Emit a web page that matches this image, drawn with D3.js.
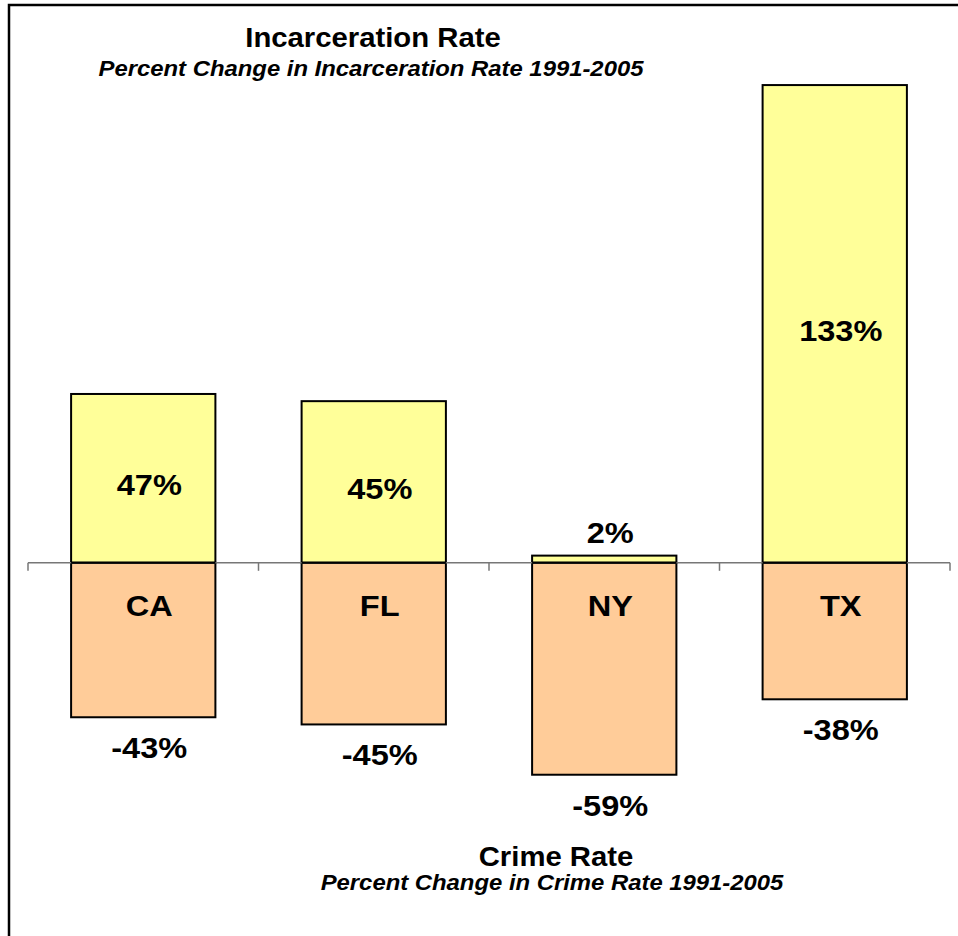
<!DOCTYPE html>
<html>
<head>
<meta charset="utf-8">
<script src="https://cdn.jsdelivr.net/npm/d3@7"></script>
<style>
  body { margin: 0; background: #fff; }
  text { font-family: Arial, "Liberation Sans", sans-serif; font-weight: bold; fill: #000; }
</style>
</head>
<body>
<div id="chart"></div>
<script>
(function() {
  var width = 958,
      height = 936;

  var states = ["CA", "FL", "NY", "TX"];
  var incarceration = [47, 45, 2, 133];
  var crime = [-43, -45, -59, -38];

  // the original text is a little wider than Liberation Sans
  var stretch = 1.085;
  function place(px, py) {
    return "translate(" + px + "," + py + ") scale(" + stretch + ",1)";
  }

  var svg = d3.select("#chart")
    .append("svg")
    .attr("width", width)
    .attr("height", height);

  // frame runs off the right and bottom of the picture
  svg.append("rect")
    .attr("x", 9)
    .attr("y", 5)
    .attr("width", 1100)
    .attr("height", 1100)
    .attr("fill", "none")
    .attr("stroke", "#000")
    .attr("stroke-width", 2.5);

  var x = d3.scaleBand()
    .domain(states)
    .range([28, 950])
    .paddingInner(0.374)
    .paddingOuter(0.187);

  var y = d3.scaleLinear()
    .domain([-100, 150])
    .range([922, 24]);

  var step = x.step();
  var labelShift = 6;

  // positive bars (incarceration)
  svg.selectAll(".inc")
    .data(states)
    .enter().append("rect")
    .attr("class", "inc")
    .attr("x", function(d) { return x(d); })
    .attr("width", x.bandwidth())
    .attr("y", function(d, i) { return y(incarceration[i]); })
    .attr("height", function(d, i) { return y(0) - y(incarceration[i]); })
    .attr("fill", "#FFFF99")
    .attr("stroke", "#000")
    .attr("stroke-width", 2);

  // negative bars (crime)
  svg.selectAll(".crime")
    .data(states)
    .enter().append("rect")
    .attr("class", "crime")
    .attr("x", function(d) { return x(d); })
    .attr("width", x.bandwidth())
    .attr("y", y(0))
    .attr("height", function(d, i) { return y(crime[i]) - y(0); })
    .attr("fill", "#FFCC99")
    .attr("stroke", "#000")
    .attr("stroke-width", 2);

  // axis line with ticks between categories
  svg.append("line")
    .attr("x1", x.range()[0])
    .attr("x2", x.range()[1])
    .attr("y1", y(0))
    .attr("y2", y(0))
    .attr("stroke", "#777")
    .attr("stroke-width", 1.5);

  svg.selectAll(".tick")
    .data(d3.range(states.length + 1))
    .enter().append("line")
    .attr("class", "tick")
    .attr("x1", function(i) { return x.range()[0] + i * step; })
    .attr("x2", function(i) { return x.range()[0] + i * step; })
    .attr("y1", y(0))
    .attr("y2", y(0) + 8)
    .attr("stroke", "#777")
    .attr("stroke-width", 1.5);

  // redraw the zero edge of the bars on top of the axis
  svg.selectAll(".zero")
    .data(states)
    .enter().append("line")
    .attr("x1", function(d) { return x(d); })
    .attr("x2", function(d) { return x(d) + x.bandwidth(); })
    .attr("y1", y(0))
    .attr("y2", y(0))
    .attr("stroke", "#000")
    .attr("stroke-width", 2);

  // value labels for incarceration
  svg.selectAll(".inc-label")
    .data(states)
    .enter().append("text")
    .attr("class", "inc-label")
    .attr("text-anchor", "middle")
    .attr("font-size", 30)
    .attr("transform", function(d, i) {
      var v = incarceration[i];
      var ly = (y(0) - y(v) < 40) ? y(v) - 13 : y(v / 2) + 17;   // too small, put above
      return place(x(d) + x.bandwidth() / 2 + labelShift, ly);
    })
    .text(function(d, i) { return incarceration[i] + "%"; });

  // category labels just under the axis
  svg.selectAll(".cat-label")
    .data(states)
    .enter().append("text")
    .attr("class", "cat-label")
    .attr("text-anchor", "middle")
    .attr("font-size", 30)
    .attr("transform", function(d) {
      return place(x(d) + x.bandwidth() / 2 + labelShift, y(0) + 53);
    })
    .text(function(d) { return d; });

  // value labels for crime, below bars
  svg.selectAll(".crime-label")
    .data(states)
    .enter().append("text")
    .attr("class", "crime-label")
    .attr("text-anchor", "middle")
    .attr("font-size", 30)
    .attr("transform", function(d, i) {
      return place(x(d) + x.bandwidth() / 2 + labelShift, y(crime[i]) + 41);
    })
    .text(function(d, i) { return crime[i] + "%"; });

  // titles
  svg.append("text")
    .attr("transform", place(373, 47))
    .attr("text-anchor", "middle")
    .attr("font-size", 27)
    .text("Incarceration Rate");

  svg.append("text")
    .attr("transform", place(371, 76))
    .attr("text-anchor", "middle")
    .attr("font-size", 22)
    .attr("font-style", "italic")
    .text("Percent Change in Incarceration Rate 1991-2005");

  svg.append("text")
    .attr("transform", place(556, 866))
    .attr("text-anchor", "middle")
    .attr("font-size", 27)
    .text("Crime Rate");

  svg.append("text")
    .attr("transform", place(552, 890))
    .attr("text-anchor", "middle")
    .attr("font-size", 22)
    .attr("font-style", "italic")
    .text("Percent Change in Crime Rate 1991-2005");
})();
</script>
</body>
</html>
